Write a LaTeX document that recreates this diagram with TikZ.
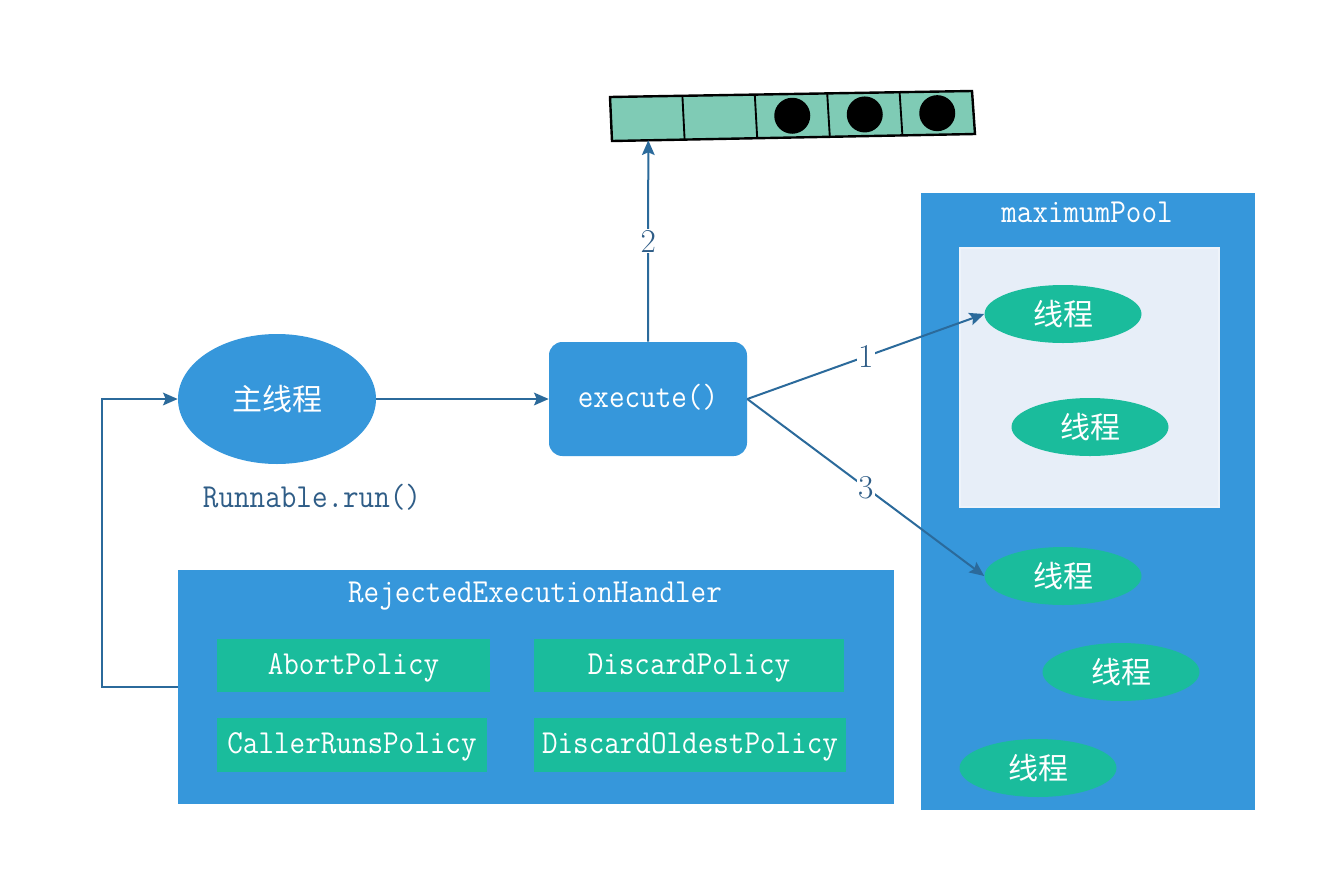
\documentclass[tikz,border=0pt]{standalone}
\usepackage{fontspec}
\newfontfamily\cjk{Noto Sans CJK SC}
\newfontfamily\monof[FakeStretch=0.9]{Latin Modern Mono}
\usetikzlibrary{shapes.geometric,arrows.meta,calc}
\definecolor{bluebox}{HTML}{3697DB}
\definecolor{greenbox}{HTML}{1ABC9C}
\definecolor{queuefill}{HTML}{7FCBB5}
\definecolor{innerfill}{HTML}{E7EEF8}
\definecolor{linkcol}{HTML}{2B6A9B}
\definecolor{runcol}{HTML}{2F5D87}
\tikzset{
  mono/.style={font=\fontsize{25.2}{28}\selectfont\monof, text height=15.6pt, text depth=2.5pt},
  bluerect/.style={fill=bluebox, draw=none, inner sep=0pt},
  policy/.style={fill=greenbox, draw=none, inner sep=0pt, minimum height=40pt, text=white, mono},
  thread/.style={ellipse, fill=greenbox, draw=none, minimum width=117.75pt, minimum height=43.5pt, inner sep=0pt, text=white, font=\fontsize{22.5}{26}\selectfont\cjk},
  arr/.style={draw=linkcol, line width=1.5pt, -{Stealth[length=11pt,width=9.5pt,inset=2pt]}},
  lbl/.style={fill=white, inner sep=1pt, text=runcol, font=\fontsize{25}{28}\selectfont}
}
\begin{document}
\begin{tikzpicture}[x=0.75pt,y=-0.75pt]
\useasboundingbox[fill=white] (0,0) rectangle (1339,875);

% queue
\coordinate (TL) at (610,97);
\coordinate (TR) at (972,91);
\coordinate (BR) at (975,134);
\coordinate (BL) at (612,141);
\fill[queuefill] (TL) -- (TR) -- (BR) -- (BL) -- cycle;
\foreach \f in {0.2,0.4,0.6,0.8}{
  \draw[black, line width=1.4pt] ($(TL)!\f!(TR)$) -- ($(BL)!\f!(BR)$);
}
\foreach \f in {0.5,0.7,0.9}{
  \fill[black] ($($(TL)!\f!(TR)$)!0.5!($(BL)!\f!(BR)$)$) circle (13.5pt);
}
\draw[black, line width=1.8pt] (TL) -- (TR) -- (BR) -- (BL) -- cycle;
\coordinate (qb) at ($(BL)!0.1!(BR)$);

% main thread
\node[ellipse, fill=bluebox, draw=none, minimum width=148.5pt, minimum height=97.5pt, inner sep=0pt, text=white, font=\fontsize{22.5}{26}\selectfont\cjk] (main) at (277,399) {主线程};
\node[mono, text=runcol] (run) at (312,499) {Runnable.run()};

% execute
\node[bluerect, rounded corners=10pt, minimum width=148.5pt, minimum height=85.5pt, text=white, mono] (exec) at (648,399) {execute()};

% rejected handler
\node[bluerect, minimum width=537pt, minimum height=175.5pt] (rej) at (536,687) {};
\node[mono, text=white] (rejt) at (535,594) {RejectedExecutionHandler};
\node[policy, minimum width=204.75pt] (abort) at (353.5,665.5) {AbortPolicy};
\node[policy, minimum width=232.5pt] (disc) at (689,665.5) {DiscardPolicy};
\node[policy, minimum width=202.5pt] (caller) at (352,745) {CallerRunsPolicy};
\node[policy, minimum width=234pt] (oldest) at (690,745) {DiscardOldestPolicy};

% maximum pool
\node[bluerect, minimum width=250.5pt, minimum height=462.75pt] (pool) at (1088,501.5) {};
\node[mono, text=white] (poolt) at (1087,214) {maximumPool};
\node[fill=innerfill, draw=innerfill!70!white, line width=0.8pt, inner sep=0pt, minimum width=194.25pt, minimum height=194.25pt] (core) at (1089.5,377.5) {};
\node[thread] (t1) at (1063,314) {线程};
\node[thread] (t2) at (1090,427) {线程};
\node[thread] (t3) at (1063,576) {线程};
\node[thread] (t4) at (1121,672) {线程};
\node[thread] (t5) at (1038,768) {线程};

% connectors
\draw[arr] (main.east) -- (exec.west);
\draw[arr] (exec.north) -- node[lbl]{2} (qb);
\draw[arr] (exec.east) -- node[lbl]{1} (t1.west);
\draw[arr] (exec.east) -- node[lbl]{3} (t3.west);
\coordinate (lp) at (102,687);
\draw[arr] (rej.west) -- (lp) |- (main.west);
\end{tikzpicture}
\end{document}
